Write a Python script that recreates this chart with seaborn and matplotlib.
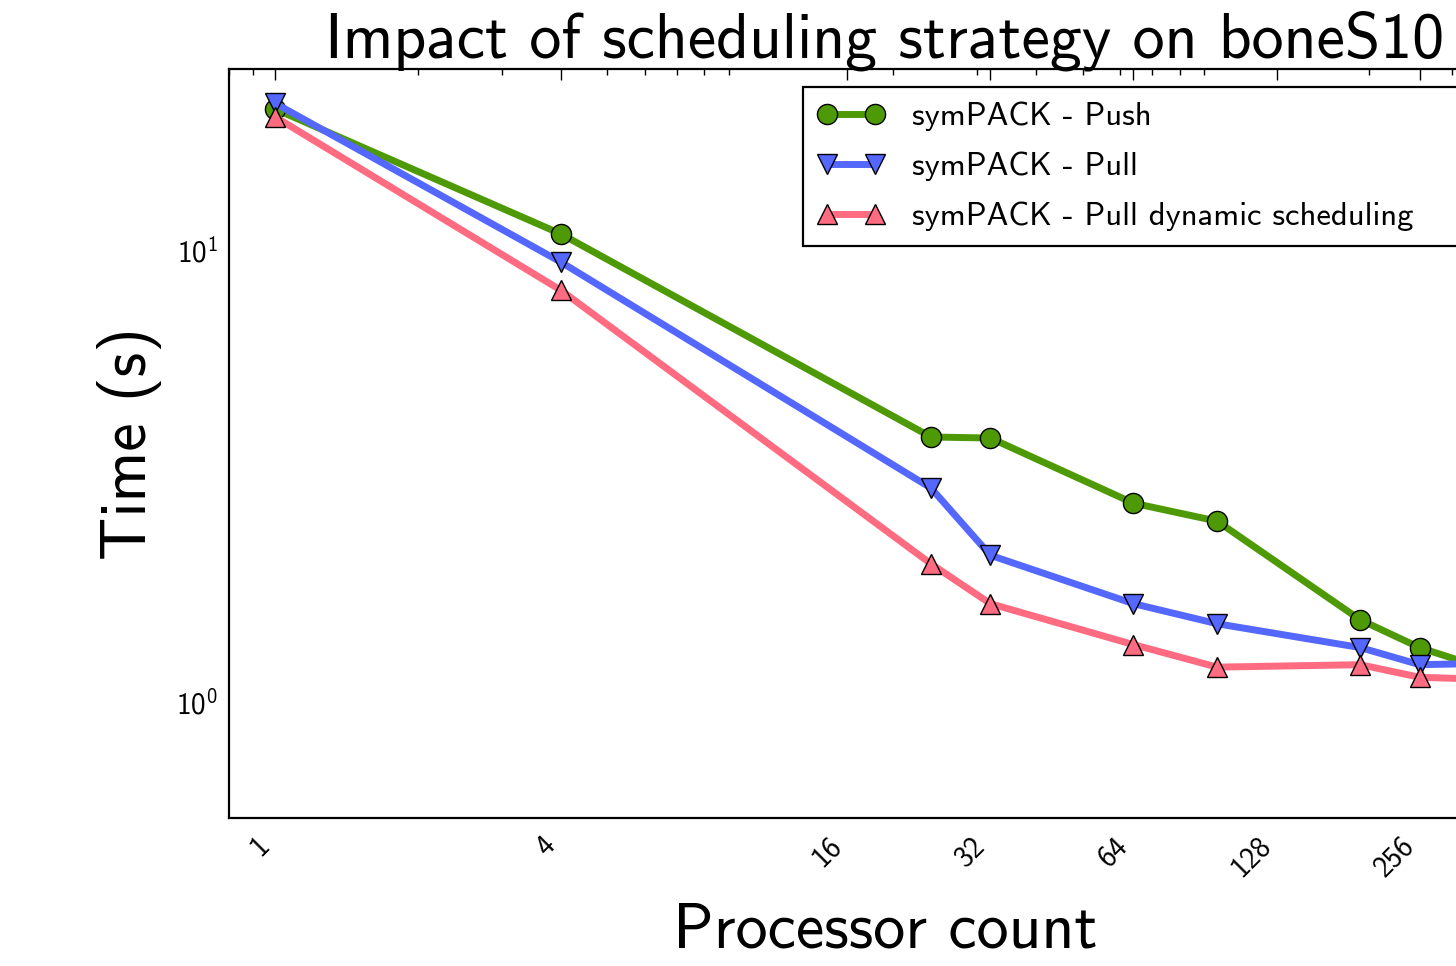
import matplotlib
matplotlib.use("Agg")
import matplotlib.pyplot as plt
import matplotlib.ticker as mticker
import seaborn as sns
import pandas as pd

# ---- data ----
procs = [1, 4, 24, 32, 64, 96, 192, 256, 384]
push = [20.4, 10.8, 3.85, 3.83, 2.75, 2.51, 1.52, 1.32, 1.15]
pull = [21.0, 9.36, 2.97, 2.11, 1.65, 1.49, 1.32, 1.21, 1.22]
pull_dyn = [19.6, 8.11, 2.02, 1.65, 1.34, 1.195, 1.21, 1.135, 1.12]

series_names = ["symPACK - Push", "symPACK - Pull", "symPACK - Pull dynamic scheduling"]
series_values = [push, pull, pull_dyn]
series_colors = ["#4e9a06", "#5468ff", "#ff6b80"]
series_markers = ["o", "v", "^"]

xtick_values = [1, 4, 16, 32, 64, 128, 256]
xtick_labels = ["1", "4", "16", "32", "64", "128", "256"]

title = "Impact of scheduling strategy on boneS10"
xlabel = "Processor count"
ylabel = "Time (s)"

sns.set_style("white")
plt.rcParams["font.family"] = ["cmss10", "DejaVu Sans"]
plt.rcParams["mathtext.fontset"] = "custom"
plt.rcParams["mathtext.rm"] = "cmss10"
plt.rcParams["mathtext.it"] = "cmss10"
plt.rcParams["axes.unicode_minus"] = False
plt.rcParams["axes.formatter.use_mathtext"] = True
for key in ["text.color", "axes.labelcolor", "xtick.color", "ytick.color", "axes.edgecolor"]:
    plt.rcParams[key] = "black"

W, H = 1456, 966
fig = plt.figure(figsize=(W / 100, H / 100), dpi=100)
left, right, top, bottom = 229, 1541, 69, 818
ax = fig.add_axes([left / W, 1 - bottom / H, (right - left) / W, (bottom - top) / H])

for name, vals, col, mk in zip(series_names, series_values, series_colors, series_markers):
    df = pd.DataFrame({"procs": procs, "time": vals})
    sns.lineplot(data=df, x="procs", y="time", ax=ax, color=col, lw=5,
                 marker=mk, markersize=14.5, markeredgecolor="black",
                 markeredgewidth=1.0, label=name)

ax.set_xscale("log")
ax.set_yscale("log")
ax.set_xlim(0.8, 461)
ax.set_ylim(0.555, 25)
ax.set_xticks(xtick_values)
ax.set_xticklabels(xtick_labels)
ax.xaxis.set_minor_formatter(mticker.NullFormatter())
ax.yaxis.set_minor_formatter(mticker.NullFormatter())

for s in ax.spines.values():
    s.set_linewidth(1.6)
    s.set_color("black")

ax.tick_params(which="both", direction="in", top=True, right=True, color="black")
ax.tick_params(which="major", length=8, width=1.0)
ax.tick_params(which="minor", length=4, width=1.0)
ax.tick_params(axis="y", which="major", labelsize=21, pad=8)
ax.tick_params(axis="x", which="major", labelsize=21, pad=10)
for lab in ax.get_xticklabels():
    lab.set_rotation(45)
    lab.set_ha("right")

ax.set_title(title, fontsize=46, pad=8)
ax.set_xlabel(xlabel, fontsize=46, labelpad=15)
ax.set_ylabel(ylabel, fontsize=46, labelpad=10)

# legend frame: left edge and top as in the reference, right edge past the crop
lx0 = (803 - left) / (right - left)
lw_ = (1525 - 803) / (right - left)
ly = (bottom - 87) / (bottom - top)
leg = ax.legend(loc="upper left", bbox_to_anchor=(lx0, ly, lw_, 0), mode="expand",
                fontsize=23.5, frameon=True, fancybox=False,
                numpoints=2, handlelength=2.07, handletextpad=0.83,
                labelspacing=0.63, borderpad=0.45, borderaxespad=0)
leg.get_frame().set_edgecolor("black")
leg.get_frame().set_linewidth(1.6)
leg.get_frame().set_alpha(1.0)

fig.savefig("out.png", dpi=100)
